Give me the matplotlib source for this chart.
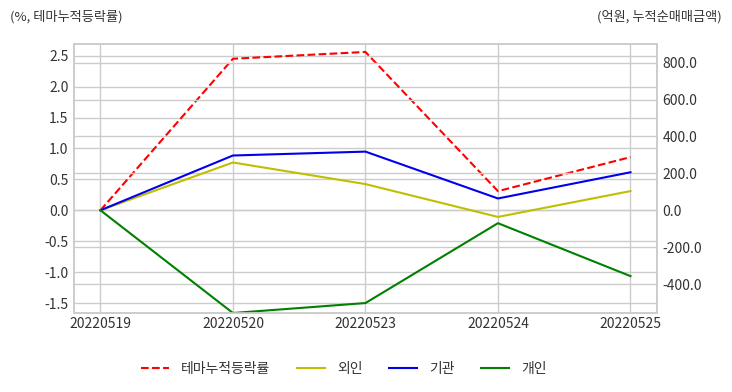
import numpy as np
import matplotlib
matplotlib.use('Agg')
import matplotlib.pyplot as plt
from matplotlib.ticker import FormatStrFormatter

plt.rcParams['font.family'] = ['Noto Sans CJK KR', 'DejaVu Sans']
plt.rcParams['axes.unicode_minus'] = False

dates = ['20220519', '20220520', '20220523', '20220524', '20220525']
theme = [0.0, 2.45, 2.56, 0.31, 0.86]       # %, 테마누적등락률
foreign = [0.0, 259, 142, -36, 104]         # 억원, 외인
inst = [0.0, 297, 318, 64, 206]             # 억원, 기관
indiv = [0.0, -557, -503, -70, -357]        # 억원, 개인

grid_c = '#cccccc'
txt_c = '#333333'

fig = plt.figure(figsize=(7.32, 3.92), dpi=100)
ax = fig.add_axes([0.101, 0.2015, 0.7965, 0.6865])
ax2 = ax.twinx()
x = np.arange(len(dates))

l1, = ax.plot(x, theme, color='r', linestyle='--', linewidth=1.5, label='테마누적등락률')
l2, = ax2.plot(x, foreign, color='#bfbf00', linewidth=1.5, label='외인')
l3, = ax2.plot(x, inst, color='#0000ee', linewidth=1.5, label='기관')
l4, = ax2.plot(x, indiv, color='#008000', linewidth=1.5, label='개인')

ax.set_xlim(-0.2, 4.2)
ax.set_ylim(-1.66, 2.69)
ax2.set_ylim(-557, 902)
ax.set_xticks(x)
ax.set_xticklabels(dates)
ax.set_yticks(np.arange(-1.5, 2.51, 0.5))
ax.yaxis.set_major_formatter(FormatStrFormatter('%.1f'))
ax2.set_yticks(np.arange(-400, 801, 200))
ax2.yaxis.set_major_formatter(FormatStrFormatter('%.1f'))

for a in (ax, ax2):
    a.grid(True, color=grid_c, linewidth=1)
    a.set_axisbelow(True)
    a.tick_params(length=0, labelsize=10, labelcolor=txt_c, pad=4)
    for s in a.spines.values():
        s.set_color(grid_c)
        s.set_linewidth(1.2)
ax2.grid(True, axis='y', color=grid_c, linewidth=1)
ax.grid(True, axis='x', color=grid_c, linewidth=1)
ax.set_facecolor('white')
ax.tick_params(axis='x', pad=3)

fig.text(0.0137, 0.957, '(%, 테마누적등락률)', fontsize=9.5, color=txt_c, ha='left', va='center')
fig.text(0.986, 0.957, '(억원, 누적순매매금액)', fontsize=9.5, color=txt_c, ha='right', va='center')

fig.legend(handles=[l1, l2, l3, l4], loc='center', bbox_to_anchor=(0.47, 0.058),
           ncol=4, frameon=False, fontsize=10, handlelength=2.0, handletextpad=0.9,
           columnspacing=1.9, labelcolor=txt_c)

fig.savefig('out.png', dpi=100, facecolor='white')
